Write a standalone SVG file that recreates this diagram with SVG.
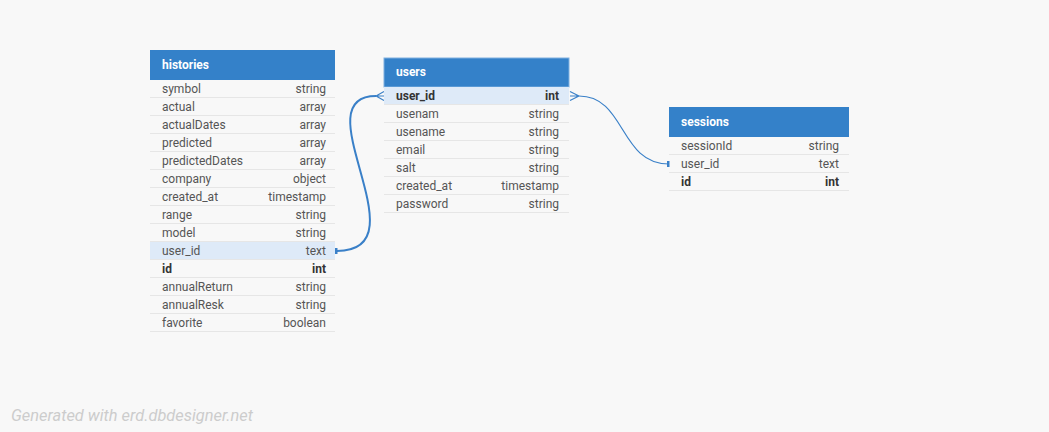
<svg xmlns="http://www.w3.org/2000/svg" width="1049" height="432" viewBox="0 0 1049 432">
<style>
.bg{fill:#f8f8f8}
.hdr{fill:#3481c9}
.ht{font-family:Roboto,"Liberation Sans",sans-serif;font-size:12px;font-weight:bold;fill:#ffffff}
.ft{font-family:Roboto,"Liberation Sans",sans-serif;font-size:12px;fill:#555555}
.fb{font-family:Roboto,"Liberation Sans",sans-serif;font-size:12px;font-weight:bold;fill:#333333}
.r{text-anchor:end}
.sep{stroke:#e6e6e6;stroke-width:1}
.hl{fill:#deeaf8}
.con{fill:none;stroke:#3a80c8}
.foot{font-family:Roboto,"Liberation Sans",sans-serif;font-size:16.4px;font-style:italic;fill:#cccccc}
</style>
<rect class="bg" x="0" y="0" width="1049" height="432"/>

<g id="connectors">
  <path class="con" stroke-width="2" d="M 337,251 C 425,251 300,96 376,96"/>
  <rect x="335" y="248" width="2.5" height="6" fill="#3a80c8"/>
  <path class="con" stroke-width="1.2" d="M 376,96 L 384,91.5 M 376,96 L 384,96 M 376,96 L 384,100.5"/>
  <path class="con" stroke-width="1.2" d="M 579,96 C 626,96 619,164 669,164"/>
  <path class="con" stroke-width="1.2" d="M 579,96 L 570,91.5 M 579,96 L 570,96 M 579,96 L 570,100.5"/>
  <rect x="667" y="161" width="2.5" height="6" fill="#3a80c8"/>
</g>

<g id="histories">
  <rect class="hdr" x="150" y="50" width="185" height="30"/>
  <text class="ht" x="162" y="69">histories</text>
  <rect class="hl" x="150" y="242" width="185" height="18"/>
  <g>
    <line class="sep" x1="150" y1="97.5" x2="335" y2="97.5"/>
    <line class="sep" x1="150" y1="115.5" x2="335" y2="115.5"/>
    <line class="sep" x1="150" y1="133.5" x2="335" y2="133.5"/>
    <line class="sep" x1="150" y1="151.5" x2="335" y2="151.5"/>
    <line class="sep" x1="150" y1="169.5" x2="335" y2="169.5"/>
    <line class="sep" x1="150" y1="187.5" x2="335" y2="187.5"/>
    <line class="sep" x1="150" y1="205.5" x2="335" y2="205.5"/>
    <line class="sep" x1="150" y1="223.5" x2="335" y2="223.5"/>
    <line class="sep" x1="150" y1="241.5" x2="335" y2="241.5"/>
    <line class="sep" x1="150" y1="259.5" x2="335" y2="259.5"/>
    <line class="sep" x1="150" y1="277.5" x2="335" y2="277.5"/>
    <line class="sep" x1="150" y1="295.5" x2="335" y2="295.5"/>
    <line class="sep" x1="150" y1="313.5" x2="335" y2="313.5"/>
    <line class="sep" x1="150" y1="331.5" x2="335" y2="331.5"/>
  </g>
  <text class="ft" x="162" y="93">symbol</text><text class="ft r" x="326" y="93">string</text>
  <text class="ft" x="162" y="111">actual</text><text class="ft r" x="326" y="111">array</text>
  <text class="ft" x="162" y="129">actualDates</text><text class="ft r" x="326" y="129">array</text>
  <text class="ft" x="162" y="147">predicted</text><text class="ft r" x="326" y="147">array</text>
  <text class="ft" x="162" y="165">predictedDates</text><text class="ft r" x="326" y="165">array</text>
  <text class="ft" x="162" y="183">company</text><text class="ft r" x="326" y="183">object</text>
  <text class="ft" x="162" y="201">created_at</text><text class="ft r" x="326" y="201">timestamp</text>
  <text class="ft" x="162" y="219">range</text><text class="ft r" x="326" y="219">string</text>
  <text class="ft" x="162" y="237">model</text><text class="ft r" x="326" y="237">string</text>
  <text class="ft" x="162" y="255">user_id</text><text class="ft r" x="326" y="255">text</text>
  <text class="fb" x="162" y="273">id</text><text class="fb r" x="326" y="273">int</text>
  <text class="ft" x="162" y="291">annualReturn</text><text class="ft r" x="326" y="291">string</text>
  <text class="ft" x="162" y="309">annualResk</text><text class="ft r" x="326" y="309">string</text>
  <text class="ft" x="162" y="327">favorite</text><text class="ft r" x="326" y="327">boolean</text>
</g>

<g id="users">
  <rect class="hdr" x="384" y="58" width="185" height="29" stroke="#7fb0e0" stroke-width="1"/>
  <text class="ht" x="396" y="76">users</text>
  <rect class="hl" x="384" y="87" width="185" height="18"/>
  <line class="sep" x1="384" y1="104.5" x2="569" y2="104.5"/>
  <line class="sep" x1="384" y1="122.5" x2="569" y2="122.5"/>
  <line class="sep" x1="384" y1="140.5" x2="569" y2="140.5"/>
  <line class="sep" x1="384" y1="158.5" x2="569" y2="158.5"/>
  <line class="sep" x1="384" y1="176.5" x2="569" y2="176.5"/>
  <line class="sep" x1="384" y1="194.5" x2="569" y2="194.5"/>
  <line class="sep" x1="384" y1="212.5" x2="569" y2="212.5"/>
  <text class="fb" x="396" y="100">user_id</text><text class="fb r" x="559" y="100">int</text>
  <text class="ft" x="396" y="118">usenam</text><text class="ft r" x="559" y="118">string</text>
  <text class="ft" x="396" y="136">usename</text><text class="ft r" x="559" y="136">string</text>
  <text class="ft" x="396" y="154">email</text><text class="ft r" x="559" y="154">string</text>
  <text class="ft" x="396" y="172">salt</text><text class="ft r" x="559" y="172">string</text>
  <text class="ft" x="396" y="190">created_at</text><text class="ft r" x="559" y="190">timestamp</text>
  <text class="ft" x="396" y="208">password</text><text class="ft r" x="559" y="208">string</text>
</g>

<g id="sessions">
  <rect class="hdr" x="669" y="107" width="180" height="30"/>
  <text class="ht" x="681" y="126">sessions</text>
  <line class="sep" x1="669" y1="154.5" x2="849" y2="154.5"/>
  <line class="sep" x1="669" y1="172.5" x2="849" y2="172.5"/>
  <line class="sep" x1="669" y1="190.5" x2="849" y2="190.5"/>
  <text class="ft" x="681" y="150">sessionId</text><text class="ft r" x="839" y="150">string</text>
  <text class="ft" x="681" y="168">user_id</text><text class="ft r" x="839" y="168">text</text>
  <text class="fb" x="681" y="186">id</text><text class="fb r" x="839" y="186">int</text>
</g>

<text class="foot" x="11" y="421">Generated with erd.dbdesigner.net</text>
</svg>
